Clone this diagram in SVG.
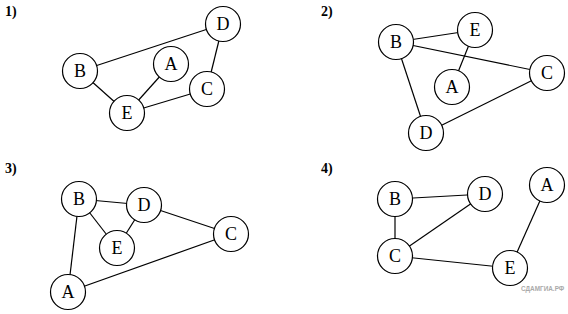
<svg xmlns="http://www.w3.org/2000/svg" width="568" height="314" viewBox="0 0 568 314">
<style>
.n circle{fill:#fff;stroke:#000;stroke-width:1.2}
.n text{font-family:"Liberation Serif","Times New Roman",serif;font-size:18px;text-anchor:middle;fill:#000}
.lbl{font-family:"Liberation Serif","Times New Roman",serif;font-size:14px;font-weight:bold;fill:#000}
#edges line{stroke:#000;stroke-width:1.2}
.wm{font-family:"Liberation Sans",Arial,sans-serif;font-size:6.4px;font-weight:bold;fill:#aaa}
</style>
<rect width="568" height="314" fill="#fff"/>
<text class="lbl" x="5" y="16">1)</text>
<text class="lbl" x="321" y="16">2)</text>
<text class="lbl" x="5" y="173">3)</text>
<text class="lbl" x="321" y="173">4)</text>
<g id="edges">
<line x1="80" y1="71" x2="223" y2="24"/>
<line x1="80" y1="71" x2="127" y2="113"/>
<line x1="127" y1="113" x2="171" y2="64"/>
<line x1="127" y1="113" x2="207" y2="89"/>
<line x1="207" y1="89" x2="223" y2="24"/>
<line x1="396" y1="42" x2="475" y2="30"/>
<line x1="475" y1="30" x2="452" y2="87"/>
<line x1="396" y1="42" x2="547" y2="73"/>
<line x1="396" y1="42" x2="426" y2="133"/>
<line x1="426" y1="133" x2="547" y2="73"/>
<line x1="79" y1="199" x2="144" y2="205"/>
<line x1="79" y1="199" x2="117" y2="248"/>
<line x1="117" y1="248" x2="144" y2="205"/>
<line x1="144" y1="205" x2="231" y2="234"/>
<line x1="79" y1="199" x2="68" y2="292"/>
<line x1="68" y1="292" x2="231" y2="234"/>
<line x1="395" y1="199" x2="485" y2="194"/>
<line x1="395" y1="199" x2="395" y2="256"/>
<line x1="395" y1="256" x2="485" y2="194"/>
<line x1="395" y1="256" x2="510" y2="268"/>
<line x1="510" y1="268" x2="547" y2="185"/>
</g>
<g id="g1-D" class="n"><circle cx="223" cy="24" r="17.5"/><text x="223" y="30">D</text></g>
<g id="g1-B" class="n"><circle cx="80" cy="71" r="17.5"/><text x="80" y="77">B</text></g>
<g id="g1-A" class="n"><circle cx="171" cy="64" r="17.5"/><text x="171" y="70">A</text></g>
<g id="g1-C" class="n"><circle cx="207" cy="89" r="17.5"/><text x="207" y="95">C</text></g>
<g id="g1-E" class="n"><circle cx="127" cy="113" r="17.5"/><text x="127" y="119">E</text></g>
<g id="g2-B" class="n"><circle cx="396" cy="42" r="17.5"/><text x="396" y="48">B</text></g>
<g id="g2-E" class="n"><circle cx="475" cy="30" r="17.5"/><text x="475" y="36">E</text></g>
<g id="g2-A" class="n"><circle cx="452" cy="87" r="17.5"/><text x="452" y="93">A</text></g>
<g id="g2-C" class="n"><circle cx="547" cy="73" r="17.5"/><text x="547" y="79">C</text></g>
<g id="g2-D" class="n"><circle cx="426" cy="133" r="17.5"/><text x="426" y="139">D</text></g>
<g id="g3-B" class="n"><circle cx="79" cy="199" r="17.5"/><text x="79" y="205">B</text></g>
<g id="g3-D" class="n"><circle cx="144" cy="205" r="17.5"/><text x="144" y="211">D</text></g>
<g id="g3-C" class="n"><circle cx="231" cy="234" r="17.5"/><text x="231" y="240">C</text></g>
<g id="g3-E" class="n"><circle cx="117" cy="248" r="17.5"/><text x="117" y="254">E</text></g>
<g id="g3-A" class="n"><circle cx="68" cy="292" r="17.5"/><text x="68" y="298">A</text></g>
<g id="g4-B" class="n"><circle cx="395" cy="199" r="17.5"/><text x="395" y="205">B</text></g>
<g id="g4-D" class="n"><circle cx="485" cy="194" r="17.5"/><text x="485" y="200">D</text></g>
<g id="g4-A" class="n"><circle cx="547" cy="185" r="17.5"/><text x="547" y="191">A</text></g>
<g id="g4-C" class="n"><circle cx="395" cy="256" r="17.5"/><text x="395" y="262">C</text></g>
<g id="g4-E" class="n"><circle cx="510" cy="268" r="17.5"/><text x="510" y="274">E</text></g>
<text class="wm" x="521" y="291">СДАМГИА.РФ</text>
</svg>
